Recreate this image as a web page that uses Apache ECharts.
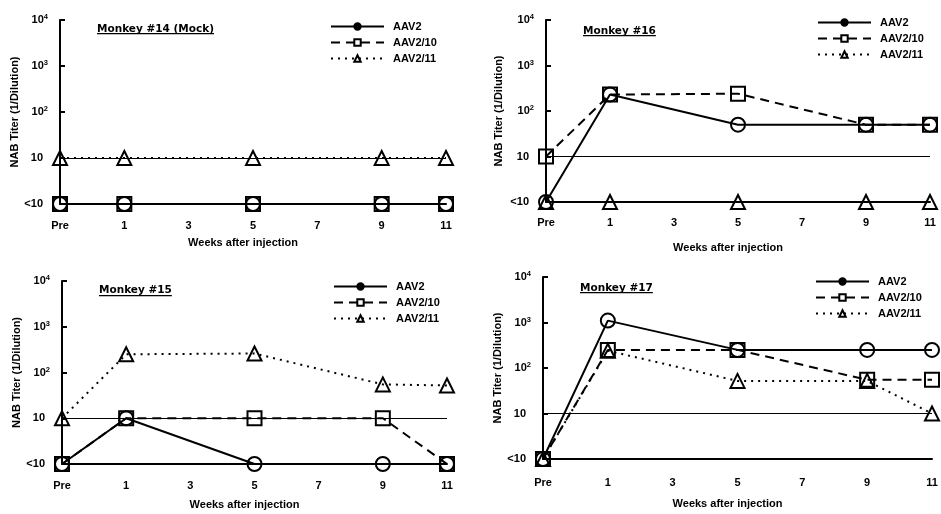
<!DOCTYPE html>
<html><head><meta charset="utf-8">
<script src="https://cdn.jsdelivr.net/npm/echarts@6/dist/echarts.min.js"></script>
<style>html,body{margin:0;padding:0;background:#fff}#c{width:941px;height:514px}</style>
</head><body><div id="c"></div><script>
// x positions of the measurements (Pre is plotted at week -1)
const weeks = [-1, 1, 5, 9, 11];
const xTickValues = [-1, 1, 3, 5, 7, 9, 11];
const xTickLabels = ['Pre', '1', '3', '5', '7', '9', '11'];
const seriesNames = ['AAV2', 'AAV2/10', 'AAV2/11'];
const panelTitles = ['Monkey #14 (Mock)', 'Monkey #16', 'Monkey #15', 'Monkey #17'];
const yAxisName = 'NAB Titer (1/Dilution)';
const xAxisName = 'Weeks after injection';
// NAB titers (1/dilution); value 1 stands for "<10"
const m14_aav2   = [1, 1, 1, 1, 1];
const m14_aav210 = [1, 1, 1, 1, 1];
const m14_aav211 = [10, 10, 10, 10, 10];
const m16_aav2   = [1, 230, 50, 50, 50];
const m16_aav210 = [10, 230, 240, 50, 50];
const m16_aav211 = [1, 1, 1, 1, 1];
const m15_aav2   = [1, 10, 1, 1, 1];
const m15_aav210 = [1, 10, 10, 10, 1];
const m15_aav211 = [10, 250, 260, 55, 52];
const m17_aav2   = [1, 1100, 250, 250, 250];
const m17_aav210 = [1, 250, 250, 55, 55];
const m17_aav211 = [1, 240, 52, 52, 10];

const FONT = 'Liberation Sans';
const panels = [
  {title: panelTitles[0], data: [m14_aav2, m14_aav210, m14_aav211],
   grid: {left: 60, top: 20, width: 386, height: 184}, legend: {left: 325, top: 16},
   tpos: [97, 24, 33], yGap: 37, xGap: 33, xMargin: 16},
  {title: panelTitles[1], data: [m16_aav2, m16_aav210, m16_aav211],
   grid: {left: 546, top: 20, width: 384, height: 182}, legend: {left: 812, top: 12},
   tpos: [583, 26, 35], yGap: 42, xGap: 40, xMargin: 15},
  {title: panelTitles[2], data: [m15_aav2, m15_aav210, m15_aav211],
   grid: {left: 62, top: 281, width: 385, height: 183}, legend: {left: 328, top: 276},
   tpos: [99, 285, 295], yGap: 39, xGap: 35, xMargin: 16},
  {title: panelTitles[3], data: [m17_aav2, m17_aav210, m17_aav211],
   grid: {left: 543, top: 277, width: 389, height: 182}, legend: {left: 810, top: 271},
   tpos: [580, 283, 292], yGap: 37, xGap: 39, xMargin: 18}
];

const styles = [
  {symbol: 'circle', line: {type: 'solid'}},
  {symbol: 'rect', line: {type: [9, 6]}},
  {symbol: 'triangle', line: {type: [2, 5]}}
];

function yFmt(v) {
  const p = Math.round(Math.log10(v));
  if (p === 0) return '{b|<10}{sp|}';
  if (p === 1) return '{b|10}{sp|}';
  return '{b|10}{s|' + p + '}';
}

const canvas = document.createElement('canvas');
const ctx = canvas.getContext('2d');
ctx.font = 'bold 10.5px "DejaVu Sans"';

const option = {
  animation: false,
  backgroundColor: '#fff',
  textStyle: {fontFamily: FONT, color: '#000'},
  grid: panels.map(p => Object.assign({containLabel: false}, p.grid)),
  legend: panels.map(p => ({
    orient: 'vertical', left: p.legend.left, top: p.legend.top,
    itemWidth: 53, itemHeight: 8, itemGap: 5,
    data: [{name: 'AAV2', itemStyle: {color: '#000'}}, 'AAV2/10', 'AAV2/11'],
    textStyle: {fontFamily: FONT, fontWeight: 'bold', fontSize: 11, color: '#000', padding: [0, 0, 0, 4]},
    selectedMode: false
  })),
  xAxis: panels.map((p, i) => ({
    type: 'value', gridIndex: i, min: -1, max: 11,
    axisLine: {show: true, onZero: false, lineStyle: {color: '#000', width: 2}},
    axisTick: {show: false},
    splitLine: {show: false},
    axisLabel: {
      customValues: xTickValues, margin: p.xMargin,
      formatter: v => xTickLabels[xTickValues.indexOf(Math.round(v))],
      fontFamily: FONT, fontWeight: 'bold', fontSize: 11, color: '#000'
    },
    name: xAxisName, nameLocation: 'middle', nameGap: p.xGap,
    nameTextStyle: {fontFamily: FONT, fontWeight: 'bold', fontSize: 11, color: '#000', padding: [0, 20, 0, 0]}
  })),
  yAxis: panels.map((p, i) => ({
    type: 'log', logBase: 10, gridIndex: i, min: 1, max: 10000,
    axisLine: {show: true, onZero: false, lineStyle: {color: '#000', width: 2}},
    axisTick: {show: true, inside: true, length: 5, lineStyle: {color: '#000', width: 2}},
    splitLine: {show: false},
    minorTick: {show: false},
    axisLabel: {
      formatter: yFmt, margin: 12,
      rich: {
        b: {fontFamily: FONT, fontWeight: 'bold', fontSize: 11, color: '#000'},
        s: {fontFamily: FONT, fontWeight: 'bold', fontSize: 7.5, color: '#000', padding: [0, 0, 6, 0]},
        sp: {width: 5}
      }
    },
    name: yAxisName, nameLocation: 'middle', nameGap: p.yGap,
    nameTextStyle: {fontFamily: FONT, fontWeight: 'bold', fontSize: 11, color: '#000'}
  })),
  series: panels.flatMap((p, i) => p.data.map((vals, k) => {
    const s = {
      type: 'line', name: seriesNames[k], xAxisIndex: i, yAxisIndex: i,
      data: weeks.map((w, j) => [w, vals[j]]),
      symbol: styles[k].symbol, symbolSize: 14, clip: false,
      lineStyle: Object.assign({color: '#000', width: 2}, styles[k].line),
      itemStyle: {color: 'rgba(0,0,0,0)', borderColor: '#000', borderWidth: 2},
      emphasis: {disabled: true},
      z: 3 + k
    };
    if (k === 0) {
      s.markLine = {
        silent: true, symbol: ['none', 'none'], label: {show: false},
        lineStyle: {color: '#000', width: 1, type: 'solid'},
        data: [{yAxis: 10}]
      };
    }
    return s;
  })),
  graphic: panels.flatMap(p => {
    const w = ctx.measureText(p.title).width;
    return [
      {type: 'text', x: p.tpos[0], y: p.tpos[1],
       style: {text: p.title, fontFamily: 'DejaVu Sans', fontWeight: 'bold', fontSize: 10.5, fill: '#000', verticalAlign: 'top'}},
      {type: 'rect', shape: {x: p.tpos[0], y: p.tpos[2], width: w, height: 1.2}, style: {fill: '#000'}}
    ];
  })
};

const chart = echarts.init(document.getElementById('c'), null, {renderer: 'canvas'});
chart.setOption(option);
</script></body></html>
